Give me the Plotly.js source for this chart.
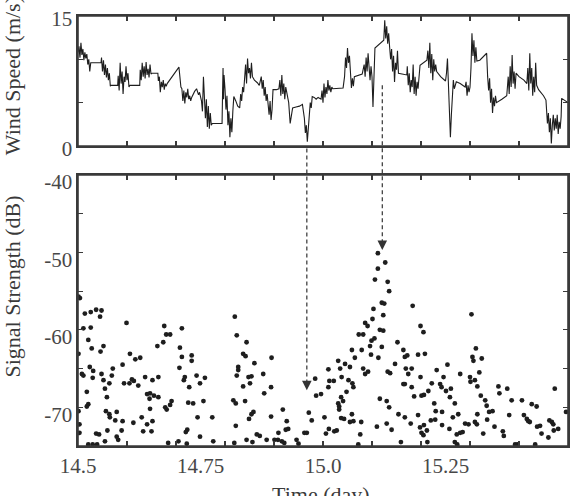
<!DOCTYPE html>
<html>
<head>
<meta charset="utf-8">
<script src="https://cdn.plot.ly/plotly-3.0.1.min.js"></script>
<style>
  html, body { margin: 0; padding: 0; background: #fff; }
  #chart { width: 579px; height: 496px; }
</style>
</head>
<body>
<div id="chart"></div>
<script>
// Wind speed record: [time (day), speed (m/s)]
const windReadings = [
  [14.500,10.8],[14.502,11.5],[14.504,10.2],[14.506,11.9],[14.508,10.5],[14.510,11.2],[14.512,9.9],[14.514,10.8],[14.516,10.1],[14.518,10.6],[14.520,9.4],[14.522,10.0],[14.524,8.6],[14.526,9.6],
  [14.547,9.6],
  [14.548,10.2],[14.550,8.6],[14.552,9.9],[14.554,8.2],[14.556,9.4],[14.558,7.9],[14.560,9.0],[14.562,7.6],[14.564,8.4],[14.566,6.9],[14.567,7.0],
  [14.581,7.0],
  [14.582,8.1],[14.584,6.4],[14.586,9.6],[14.588,7.2],[14.590,8.6],[14.592,6.0],[14.594,8.0],[14.596,7.4],[14.598,9.2],[14.600,7.6],[14.602,8.4],[14.604,6.8],[14.606,7.0],
  [14.626,7.0],
  [14.627,8.8],[14.629,7.6],[14.631,9.6],[14.633,8.0],[14.635,9.2],[14.637,7.8],[14.639,9.7],[14.641,8.2],[14.643,8.9],[14.645,7.9],[14.647,9.4],[14.649,8.3],[14.651,8.4],
  [14.663,8.4],
  [14.664,7.5],[14.666,8.0],[14.668,6.2],[14.670,7.4],[14.672,6.8],[14.674,7.6],[14.676,6.5],[14.678,7.2],[14.680,6.9],[14.682,7.2],
  [14.706,9.1],[14.710,6.8],
  [14.712,6.6],[14.714,5.2],[14.716,6.4],[14.718,4.9],[14.720,6.2],[14.722,5.6],[14.724,6.6],[14.726,5.4],[14.728,5.8],[14.730,5.2],[14.732,5.6],
  [14.738,6.3],[14.742,6.6],[14.746,5.9],[14.748,6.2],
  [14.752,5.2],[14.754,4.0],[14.756,8.0],[14.758,5.0],[14.760,3.2],[14.762,5.4],[14.764,2.2],[14.766,4.6],[14.768,2.0],[14.770,3.8],[14.772,2.4],[14.774,2.6],
  [14.794,2.6],
  [14.795,6.0],[14.796,9.0],[14.797,5.4],[14.798,8.2],[14.800,6.6],
  [14.802,4.2],[14.804,5.8],[14.806,2.4],[14.808,4.0],[14.810,1.0],[14.812,3.2],[14.814,1.6],[14.816,4.0],
  [14.818,5.7],[14.822,5.2],[14.826,4.6],[14.830,4.4],
  [14.832,6.0],[14.834,5.2],[14.836,6.8],[14.838,6.2],[14.840,8.6],[14.842,9.4],[14.844,7.2],[14.846,10.1],[14.848,8.4],[14.850,9.0],[14.852,7.8],[14.854,9.6],[14.856,8.0],
  [14.860,7.6],[14.866,7.3],[14.870,7.0],
  [14.874,8.0],[14.876,6.6],[14.878,7.6],[14.880,5.8],[14.882,6.8],[14.884,5.2],[14.886,6.0],[14.888,4.8],
  [14.890,3.6],[14.892,5.2],[14.894,3.0],[14.896,4.2],
  [14.898,6.5],[14.905,6.5],[14.910,6.6],
  [14.912,7.6],[14.914,5.8],[14.916,8.2],[14.918,6.0],[14.920,7.2],[14.922,5.4],[14.924,6.8],[14.926,6.2],
  [14.930,5.0],[14.933,2.6],[14.936,3.8],[14.938,4.4],
  [14.945,4.5],[14.952,4.6],[14.958,4.8],
  [14.960,4.0],[14.962,3.2],[14.964,1.5],[14.966,2.4],[14.968,0.5],[14.970,1.8],
  [14.972,3.6],[14.974,5.0],[14.976,4.4],[14.978,5.7],[14.982,5.6],[14.986,5.4],[14.990,5.6],[14.996,5.4],
  [14.998,6.4],[15.000,5.0],[15.002,7.2],[15.004,5.6],[15.006,6.8],[15.008,6.0],[15.010,7.6],[15.012,6.4],[15.014,7.0],[15.016,6.2],[15.018,6.8],[15.020,6.6],
  [15.041,6.7],
  [15.044,8.0],[15.046,10.2],[15.048,9.0],[15.050,11.3],[15.052,9.6],[15.054,10.4],
  [15.056,8.4],[15.058,6.7],[15.060,7.8],[15.062,6.9],[15.064,8.0],
  [15.070,8.1],[15.080,8.3],
  [15.084,9.4],[15.086,8.0],[15.088,10.2],[15.090,8.6],[15.092,10.7],[15.094,9.0],[15.096,7.6],[15.098,9.2],[15.100,8.0],
  [15.102,4.5],[15.104,7.2],
  [15.106,11.3],[15.124,12.2],
  [15.126,14.5],[15.128,12.4],[15.130,13.8],[15.132,11.8],[15.134,13.0],
  [15.136,11.4],[15.138,10.0],[15.140,11.2],[15.142,8.6],[15.144,10.4],[15.146,7.4],[15.148,9.6],[15.150,8.8],[15.152,11.0],[15.154,8.4],
  [15.171,8.2],
  [15.172,9.2],[15.174,7.0],[15.176,8.4],[15.178,6.2],[15.180,7.6],[15.182,6.8],[15.184,9.4],[15.186,6.0],[15.188,8.0],[15.190,5.8],[15.192,7.4],[15.194,6.6],[15.196,8.6],
  [15.198,9.3],[15.212,9.9],
  [15.214,11.0],[15.216,9.0],[15.218,11.9],[15.220,8.4],[15.222,10.6],[15.224,7.6],[15.226,10.0],[15.228,8.6],[15.230,9.4],[15.232,8.6],
  [15.240,8.0],[15.250,7.5],
  [15.252,8.4],[15.254,10.1],[15.256,7.0],[15.258,4.0],[15.260,1.0],[15.262,3.6],
  [15.264,6.0],[15.266,7.6],[15.268,6.6],[15.272,7.4],
  [15.280,7.2],[15.290,6.8],
  [15.292,7.4],[15.294,5.8],[15.296,7.0],[15.298,6.2],[15.300,6.8],
  [15.302,9.0],[15.304,13.0],[15.306,10.4],[15.308,12.2],[15.310,9.6],[15.312,11.4],[15.314,9.8],
  [15.320,9.9],[15.334,10.7],
  [15.336,8.0],[15.338,6.4],[15.340,7.8],[15.342,5.0],[15.344,6.6],[15.346,3.8],[15.348,5.6],[15.350,4.6],[15.352,5.8],[15.354,5.0],
  [15.365,5.4],[15.375,5.8],
  [15.378,8.0],[15.380,6.0],[15.382,9.2],[15.384,6.8],[15.386,10.5],[15.388,7.2],[15.390,8.6],[15.392,6.6],[15.394,8.4],
  [15.400,8.0],[15.410,7.6],[15.416,7.2],
  [15.418,9.0],[15.420,6.4],[15.422,10.7],[15.424,7.2],[15.426,9.0],[15.428,5.8],[15.430,8.0],[15.432,6.2],[15.434,9.6],[15.436,7.0],
  [15.440,6.5],[15.450,5.8],[15.455,5.3],
  [15.456,4.2],[15.458,2.6],[15.460,3.8],[15.462,1.6],[15.464,3.2],[15.466,0.3],[15.468,2.4],[15.470,3.6],[15.472,1.8],[15.474,3.2],[15.476,2.0],[15.478,3.6],[15.480,1.4],[15.482,2.8],[15.484,2.0],[15.486,3.4],
  [15.487,5.5],[15.500,5.0]
];

// Received signal strength samples: [time (day), strength (dB)]
const signalReadings = [
  [14.501,-55.7],[14.504,-55.9],[14.514,-57.9],[14.526,-57.7],[14.537,-57.4],[14.548,-57.5],[14.545,-58.3],[14.511,-59.8],[14.526,-59.7],[14.521,-61.3],
  [14.528,-62.4],[14.552,-62.1],[14.546,-62.8],[14.524,-64.8],[14.531,-65.3],[14.501,-63.1],[14.511,-65.9],[14.508,-65.7],[14.530,-66.2],[14.548,-65.7],
  [14.571,-65.0],[14.569,-65.9],[14.552,-66.5],[14.564,-66.9],[14.555,-67.6],[14.559,-68.7],[14.518,-68.0],[14.521,-69.6],[14.518,-69.9],[14.501,-70.5],
  [14.557,-70.5],[14.564,-70.9],[14.579,-70.6],[14.565,-71.3],[14.576,-71.7],[14.591,-71.8],[14.503,-72.2],[14.503,-73.3],[14.537,-73.4],[14.543,-73.5],
  [14.555,-74.4],[14.560,-73.0],[14.579,-73.8],[14.582,-74.2],[14.589,-73.0],[14.521,-74.8],[14.530,-74.8],[14.539,-74.8],[14.591,-64.5],[14.599,-59.1],
  [14.606,-63.1],[14.617,-63.8],[14.627,-63.6],[14.594,-66.9],[14.605,-66.9],[14.610,-66.4],[14.614,-66.6],[14.623,-67.2],[14.637,-66.1],[14.613,-72.0],
  [14.630,-71.3],[14.633,-73.1],[14.641,-72.2],[14.652,-71.8],[14.650,-73.1],[14.647,-70.2],[14.646,-68.9],[14.647,-68.2],[14.641,-68.3],[14.655,-68.5],
  [14.664,-68.7],[14.652,-66.5],[14.664,-66.1],[14.662,-62.1],[14.674,-61.6],[14.676,-59.5],[14.680,-60.6],[14.688,-60.6],[14.678,-70.0],[14.681,-70.3],
  [14.688,-69.7],[14.691,-69.2],[14.684,-74.6],[14.705,-74.4],[14.712,-59.8],[14.708,-62.3],[14.712,-63.5],[14.707,-64.9],[14.718,-66.1],[14.716,-66.5],
  [14.727,-67.4],[14.732,-63.3],[14.732,-64.0],[14.742,-65.9],[14.749,-66.9],[14.759,-66.2],[14.725,-69.4],[14.735,-69.5],[14.756,-69.2],[14.744,-71.3],
  [14.723,-72.9],[14.720,-73.2],[14.722,-74.7],[14.749,-73.8],[14.774,-71.3],[14.776,-74.4],[14.820,-58.3],[14.824,-60.7],[14.827,-64.8],[14.827,-65.2],
  [14.824,-65.9],[14.817,-69.1],[14.822,-69.5],[14.822,-72.4],[14.819,-74.6],[14.844,-61.6],[14.837,-63.1],[14.842,-63.4],[14.860,-64.3],[14.848,-66.1],
  [14.854,-66.0],[14.837,-67.3],[14.851,-66.9],[14.878,-65.7],[14.895,-63.6],[14.894,-67.4],[14.880,-68.2],[14.841,-69.2],[14.858,-70.6],[14.854,-70.9],
  [14.849,-71.5],[14.894,-71.2],[14.918,-70.3],[14.926,-71.8],[14.924,-72.9],[14.929,-72.8],[14.909,-73.3],[14.865,-73.5],[14.871,-73.7],[14.885,-74.2],
  [14.901,-74.2],[14.908,-74.2],[14.916,-74.4],[14.921,-74.6],[14.844,-74.2],[14.856,-74.5],[14.946,-74.2],[14.950,-74.7],[14.962,-73.3],[14.967,-73.3],
  [14.971,-70.7],[14.977,-71.7],[14.984,-66.3],[14.986,-68.5],[14.996,-68.3],[15.003,-71.3],[15.006,-73.4],[15.012,-72.8],[15.023,-73.1],[15.028,-73.0],
  [15.011,-67.4],[15.011,-65.1],[15.013,-66.6],[15.022,-66.6],[15.031,-64.0],[15.035,-65.0],[15.038,-66.1],[15.037,-68.7],[15.031,-69.5],[15.033,-69.9],
  [15.033,-70.3],[15.041,-69.2],[15.037,-71.4],[15.043,-71.5],[15.048,-68.0],[15.045,-64.4],[15.055,-64.8],[15.059,-62.6],[15.065,-63.6],[15.060,-66.9],
  [15.062,-67.4],[15.052,-66.5],[15.055,-71.9],[15.059,-70.9],[15.062,-71.8],[15.078,-71.9],[15.076,-73.5],[15.072,-74.8],[15.073,-60.6],[15.082,-60.6],
  [15.079,-62.6],[15.086,-59.1],[15.091,-59.5],[15.082,-65.0],[15.086,-65.7],[15.092,-65.4],[15.096,-62.1],[15.099,-61.4],[15.101,-58.6],[15.105,-61.1],
  [15.103,-57.3],[15.098,-63.2],[15.113,-63.6],[15.106,-53.5],[15.112,-52.1],[15.112,-50.1],[15.127,-51.3],[15.132,-53.8],[15.135,-55.0],[15.120,-56.5],
  [15.125,-56.6],[15.123,-58.1],[15.116,-60.0],[15.123,-60.1],[15.120,-62.2],[15.132,-65.4],[15.137,-65.6],[15.116,-68.9],[15.130,-69.2],[15.135,-70.0],
  [15.154,-70.9],[15.110,-72.5],[15.130,-72.1],[15.140,-72.9],[15.152,-61.6],[15.147,-64.4],[15.164,-62.6],[15.164,-67.0],[15.159,-74.5],[15.183,-56.9],
  [15.199,-59.5],[15.205,-60.3],[15.167,-63.5],[15.172,-63.3],[15.194,-63.2],[15.208,-63.1],[15.169,-65.0],[15.181,-65.0],[15.174,-65.7],[15.167,-67.0],
  [15.181,-67.4],[15.199,-66.1],[15.186,-68.6],[15.201,-68.5],[15.206,-68.4],[15.215,-67.9],[15.222,-66.9],[15.232,-65.2],[15.246,-66.1],[15.239,-67.0],
  [15.242,-67.4],[15.251,-67.9],[15.261,-67.6],[15.259,-68.7],[15.254,-64.5],[15.269,-69.5],[15.227,-69.5],[15.167,-71.3],[15.179,-72.1],[15.194,-71.0],
  [15.198,-72.6],[15.206,-72.3],[15.201,-73.3],[15.205,-73.6],[15.212,-73.0],[15.220,-71.7],[15.230,-70.5],[15.229,-71.6],[15.243,-70.6],[15.243,-72.3],
  [15.258,-72.8],[15.265,-71.3],[15.276,-70.9],[15.273,-73.5],[15.280,-73.3],[15.269,-74.5],[15.274,-74.8],[15.285,-73.2],[15.213,-74.5],[15.280,-65.7],
  [15.290,-72.1],[15.297,-72.2],[15.303,-58.0],[15.312,-62.4],[15.305,-63.5],[15.307,-64.0],[15.324,-63.7],[15.319,-65.5],[15.300,-66.1],[15.301,-66.7],
  [15.310,-66.5],[15.315,-67.3],[15.322,-68.5],[15.331,-69.1],[15.334,-69.8],[15.339,-70.6],[15.346,-70.5],[15.335,-71.6],[15.310,-71.9],[15.314,-72.2],
  [15.315,-70.9],[15.327,-73.4],[15.350,-72.5],[15.358,-67.3],[15.360,-68.2],[15.376,-67.6],[15.385,-69.1],[15.380,-71.0],[15.367,-73.1],[15.369,-73.7],
  [15.392,-74.8],[15.397,-74.8],[15.406,-69.1],[15.410,-71.0],[15.416,-71.5],[15.419,-71.8],[15.422,-71.9],[15.426,-69.6],[15.436,-69.9],[15.433,-74.8],
  [15.437,-72.5],[15.443,-72.4],[15.446,-73.4],[15.460,-73.9],[15.462,-71.7],[15.467,-71.9],[15.470,-72.2],[15.471,-73.0],[15.473,-67.6],[15.480,-72.8],
  [15.496,-70.6]
];

// Axis ticks and labels
const timeTickVals = [14.6, 14.7, 14.8, 14.9, 15.0, 15.1, 15.2, 15.3, 15.4];
const timeLabelVals = [14.5, 14.75, 15.0, 15.25, 15.5];
const timeLabelText = ['14.5', '14.75', '15.0', '15.25', '15.5'];
const windTickVals = [0, 5, 10, 15];
const windTickText = ['0', '', '', '15'];
const signalTickVals = [-70, -65, -60, -55, -50, -45, -40];
const signalTickText = ['-70', '', '-60', '', '-50', '', '-40'];

// Dashed arrows linking wind events to signal peaks/troughs
const arrowTimes = [14.967, 15.121];
const arrowStartWind = [-0.3, 7.0];     // start inside/just below the wind panel (m/s)
const arrowTipSignal = [-67.8, -49.7];  // arrow tip in the signal panel (dB)

const windRange = [0, 15];
const signalRange = [-75, -40];
const windDomain = [0.6977, 1];
const signalDomain = [0, 0.6302];

const serif = "'Liberation Serif', 'Times New Roman', Times, serif";
const tickFont = { family: serif, size: 21, color: '#474747' };
const titleFont = { family: serif, size: 22, color: '#3a3a3a' };
const frameColor = '#3a3a3a';

const traces = [
  {
    type: 'scatter', mode: 'lines',
    x: windReadings.map(r => r[0]), y: windReadings.map(r => r[1]),
    xaxis: 'x', yaxis: 'y',
    line: { color: '#1e1e1e', width: 1.1 }
  },
  {
    type: 'scatter', mode: 'markers',
    x: signalReadings.map(r => r[0]), y: signalReadings.map(r => r[1]),
    xaxis: 'x2', yaxis: 'y2',
    marker: { color: '#1e1e1e', size: 4.8 }
  }
];

const frameAxis = {
  showline: true, linecolor: frameColor, linewidth: 1.6, mirror: 'ticks',
  ticks: 'inside', ticklen: 5, tickwidth: 1.2, tickcolor: frameColor,
  showgrid: false, zeroline: false, tickfont: tickFont
};

// 0.1-day tick marks without labels
const timeMinor = { tickvals: timeTickVals, ticks: 'inside', ticklen: 5, tickwidth: 1.2, tickcolor: frameColor };

const toPaperWind = v => windDomain[0] + (v - windRange[0]) / (windRange[1] - windRange[0]) * (windDomain[1] - windDomain[0]);
const toPaperSignal = s => signalDomain[0] + (s - signalRange[0]) / (signalRange[1] - signalRange[0]) * (signalDomain[1] - signalDomain[0]);

// panel outlines
const panelFrames = [windDomain, signalDomain].map(d => ({
  type: 'rect', xref: 'paper', yref: 'paper', x0: 0, x1: 1, y0: d[0], y1: d[1],
  layer: 'above', line: { color: frameColor, width: 1.6 }
}));

const arrowLines = arrowTimes.map((t, i) => ({
  type: 'line', xref: 'x2', yref: 'paper',
  x0: t, x1: t,
  y0: toPaperWind(arrowStartWind[i]), y1: toPaperSignal(arrowTipSignal[i]) + 0.012,
  line: { color: '#333', width: 1.2, dash: '4px,3px' }
}));

const annotations = arrowTimes.map((t, i) => ({
  xref: 'x2', yref: 'y2', x: t, y: arrowTipSignal[i],
  text: '', showarrow: true, arrowhead: 2, arrowsize: 1.6, arrowwidth: 1.2,
  arrowcolor: '#333', ax: 0, ay: -8, standoff: 0
})).concat([
  {
    xref: 'paper', yref: 'paper', x: -0.135, y: 0.862, showarrow: false,
    text: 'Wind Speed (m/s)', textangle: -90, font: titleFont,
    xanchor: 'center', yanchor: 'middle'
  },
  {
    xref: 'paper', yref: 'paper', x: -0.133, y: 0.3705, showarrow: false,
    text: 'Signal Strength (dB)', textangle: -90, font: titleFont,
    xanchor: 'center', yanchor: 'middle'
  },
  {
    xref: 'paper', yref: 'paper', x: 0.496, y: -0.112, showarrow: false,
    text: 'Time (day)', font: titleFont, xanchor: 'center', yanchor: 'middle'
  }
]);

const layout = {
  width: 579, height: 496,
  margin: { l: 78, r: 11, t: 16, b: 50 },
  showlegend: false,
  xaxis: Object.assign({}, frameAxis, {
    anchor: 'y', domain: [0, 1], range: [14.5, 15.5],
    tickmode: 'array', tickvals: timeTickVals, showticklabels: false
  }),
  yaxis: Object.assign({}, frameAxis, {
    anchor: 'x', domain: windDomain, range: windRange,
    tickvals: windTickVals, ticktext: windTickText, ticklabelshift: 3
  }),
  xaxis2: Object.assign({}, frameAxis, {
    anchor: 'y2', domain: [0, 1], range: [14.5, 15.5],
    tickmode: 'array', tickvals: timeLabelVals, ticktext: timeLabelText,
    ticks: '', minor: timeMinor
  }),
  yaxis2: Object.assign({}, frameAxis, {
    anchor: 'x2', domain: signalDomain, range: signalRange,
    tickvals: signalTickVals, ticktext: signalTickText, ticklabelshift: 7
  }),
  shapes: panelFrames.concat(arrowLines),
  annotations: annotations
};

Plotly.newPlot('chart', traces, layout, { displayModeBar: false, staticPlot: true });
</script>
</body>
</html>
